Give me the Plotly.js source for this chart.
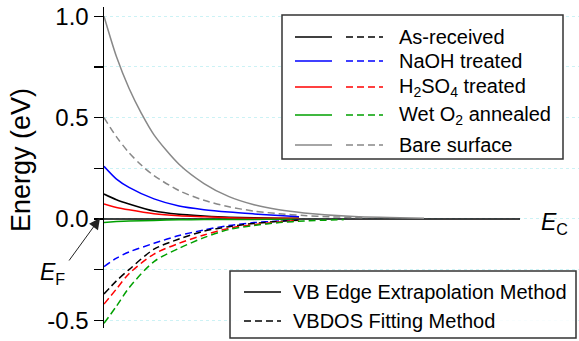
<!DOCTYPE html>
<html>
<head>
<meta charset="utf-8">
<script src="https://cdn.plot.ly/plotly-3.0.1.min.js"></script>
<style>html,body{margin:0;padding:0;background:#fff;}#chart{width:579px;height:341px;}</style>
</head>
<body>
<div id="chart"></div>
<script>
// ---- data ----
const seriesNames = ["As-received", "NaOH treated", "H<sub>2</sub>SO<sub>4</sub> treated", "Wet O<sub>2</sub> annealed", "Bare surface"];
const seriesColors = ["#000000", "#0000ff", "#ff0000", "#00a000", "#888888"];
const methodNames = ["VB Edge Extrapolation Method", "VBDOS Fitting Method"];

const xTreated = [0, 0.25, 0.5, 1, 1.5, 2, 2.5, 3, 3.5, 3.9];
const asReceivedVB = [0.123, 0.095, 0.074, 0.039, 0.023, 0.015, 0.009, 0.006, 0.004, 0.003];
const naohVB       = [0.26, 0.197, 0.156, 0.099, 0.064, 0.046, 0.034, 0.025, 0.017, 0.011];
const h2so4VB      = [0.074, 0.057, 0.045, 0.026, 0.016, 0.011, 0.006, 0.004, 0.003, 0.002];
const wetO2VB      = [-0.017, -0.013, -0.010, -0.007, -0.004, -0.003, -0.002, -0.002, -0.001, -0.001];
const asReceivedDOS = [-0.37, -0.305, -0.25, -0.149, -0.099, -0.06, -0.038, -0.022, -0.012, -0.006];
const naohDOS       = [-0.235, -0.193, -0.163, -0.12, -0.082, -0.054, -0.032, -0.018, -0.01, -0.005];
const h2so4DOS      = [-0.42, -0.345, -0.27, -0.173, -0.12, -0.079, -0.046, -0.028, -0.015, -0.007];
const xWetDOS  = [0, 0.25, 0.5, 1, 1.5, 2, 2.5, 3, 3.5, 4, 4.8];
const wetO2DOS = [-0.515, -0.43, -0.34, -0.21, -0.145, -0.092, -0.052, -0.032, -0.018, -0.01, -0.003];
const xBareVB  = [0, 0.25, 0.5, 0.75, 1, 1.5, 2, 2.5, 3, 3.5, 4, 5, 6.4];
const bareVB   = [1.0, 0.80, 0.645, 0.52, 0.415, 0.27, 0.175, 0.11, 0.07, 0.045, 0.03, 0.012, 0.004];
const xBareDOS = [0, 0.25, 0.5, 0.75, 1, 1.5, 2, 2.5, 3, 3.5, 4, 4.5, 5.2];
const bareDOS  = [0.5, 0.405, 0.327, 0.265, 0.214, 0.14, 0.092, 0.06, 0.039, 0.026, 0.017, 0.011, 0.006];
const xCB = [0, 8.32];
const cbLevel = [0, 0];

const yTickVals = [-0.5, -0.25, 0, 0.25, 0.5, 0.75, 1.0];
const yTickText = ["-0.5", "", "0.0", "", "0.5", "", "1.0"];

// ---- build ----
const FONT = "Liberation Sans, Arial, Helvetica, sans-serif";
const DASH = "7px,4px";
const LW = 1.5;
function line(x, y, color, dash) {
  return {x: x, y: y, type: "scatter", mode: "lines", showlegend: false, hoverinfo: "skip",
          line: {color: color, width: LW, dash: dash || "solid", shape: "spline", smoothing: 0.8}};
}
const traces = [
  {x: xCB, y: cbLevel, type: "scatter", mode: "lines", showlegend: false, line: {color: "#000", width: 1.5}},
  line(xBareVB, bareVB, seriesColors[4]),
  line(xBareDOS, bareDOS, seriesColors[4], DASH),
  line(xTreated, naohVB, seriesColors[1]),
  line(xTreated, asReceivedVB, seriesColors[0]),
  line(xTreated, h2so4VB, seriesColors[2]),
  line(xTreated, wetO2VB, seriesColors[3]),
  line(xTreated, naohDOS, seriesColors[1], DASH),
  line(xTreated, asReceivedDOS, seriesColors[0], DASH),
  line(xTreated, h2so4DOS, seriesColors[2], DASH),
  line(xWetDOS, wetO2DOS, seriesColors[3], DASH)
];

// pixel -> paper helpers (plot area: x 104..579, y 7..328)
const L = 104, R = 579, T = 7, B = 328;
const px = v => (v - L) / (R - L);
const py = v => (B - v) / (B - T);

const shapes = [];
const annotations = [];
// upper legend box
shapes.push({type: "rect", xref: "paper", yref: "paper", x0: px(282), x1: px(563), y0: py(159), y1: py(15),
             line: {color: "#333", width: 1.5}, fillcolor: "#fff", layer: "above"});
const rowY = [37, 61, 87, 115, 145];
seriesNames.forEach((n, i) => {
  shapes.push({type: "line", xref: "paper", yref: "paper", x0: px(295), x1: px(332), y0: py(rowY[i]), y1: py(rowY[i]),
               line: {color: seriesColors[i], width: LW}, layer: "above"});
  shapes.push({type: "line", xref: "paper", yref: "paper", x0: px(346), x1: px(383), y0: py(rowY[i]), y1: py(rowY[i]),
               line: {color: seriesColors[i], width: LW, dash: DASH}, layer: "above"});
  annotations.push({xref: "paper", yref: "paper", x: px(397), y: py(rowY[i]), xanchor: "left", yanchor: "middle",
                    text: n, showarrow: false, font: {family: FONT, size: 20, color: "#000"}});
});
// lower legend box
shapes.push({type: "rect", xref: "paper", yref: "paper", x0: px(230), x1: px(576), y0: py(338), y1: py(271),
             line: {color: "#333", width: 1.5}, fillcolor: "rgba(255,255,255,0.85)", layer: "above"});
const rowY2 = [292, 321];
methodNames.forEach((n, i) => {
  shapes.push({type: "line", xref: "paper", yref: "paper", x0: px(244), x1: px(281), y0: py(rowY2[i]), y1: py(rowY2[i]),
               line: {color: "#000", width: LW, dash: i === 0 ? "solid" : DASH}, layer: "above"});
  annotations.push({xref: "paper", yref: "paper", x: px(291), y: py(rowY2[i]), xanchor: "left", yanchor: "middle",
                    text: n, showarrow: false, font: {family: FONT, size: 20, color: "#000"}});
});
// y title
annotations.push({xref: "paper", yref: "paper", x: px(21), y: py(160), xanchor: "center", yanchor: "middle",
                  text: "Energy (eV)", textangle: -90, showarrow: false, font: {family: FONT, size: 27, color: "#000"}});
// E_C label
annotations.push({xref: "paper", yref: "paper", x: px(539), y: py(223), xanchor: "left", yanchor: "middle",
                  text: "<i>E</i><sub>C</sub>", showarrow: false, font: {family: FONT, size: 23, color: "#000"}});
// E_F label + arrow
annotations.push({xref: "paper", yref: "paper", x: px(38), y: py(273), xanchor: "left", yanchor: "middle",
                  text: "<i>E</i><sub>F</sub>", showarrow: false, font: {family: FONT, size: 23, color: "#000"}});
annotations.push({xref: "paper", yref: "paper", x: px(100), y: py(218), text: "", showarrow: true,
                  ax: -32, ay: 44, arrowhead: 2, arrowsize: 2.2, arrowwidth: 1, arrowcolor: "#222", standoff: 0});

const layout = {
  width: 579, height: 341,
  margin: {l: L, r: 0, t: T, b: 341 - B, pad: 0},
  paper_bgcolor: "#fff", plot_bgcolor: "#fff",
  showlegend: false,
  font: {family: FONT, color: "#000"},
  xaxis: {range: [0, 9.5], visible: false, fixedrange: true},
  yaxis: {range: [-0.538, 1.046], tickvals: yTickVals, ticktext: yTickText, ticks: "outside",
          ticklen: 9, tickwidth: 1.5, tickcolor: "#000", showline: true, linecolor: "#000", linewidth: 1.5,
          zeroline: false, showgrid: true, gridcolor: "#ccf2f5", griddash: "dot", gridwidth: 1,
          tickfont: {family: FONT, size: 24, color: "#000"}, fixedrange: true},
  shapes: shapes,
  annotations: annotations
};
Plotly.newPlot("chart", traces, layout, {staticPlot: true, displayModeBar: false});
</script>
</body>
</html>
